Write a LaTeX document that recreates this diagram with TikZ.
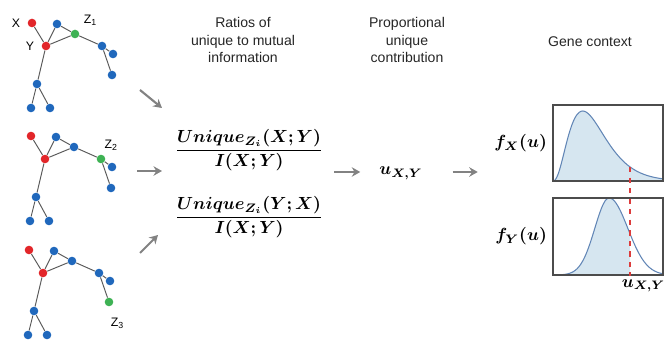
\documentclass[tikz,border=0pt]{standalone}
\usepackage{amsmath,amssymb}
\usepackage{bm}
\usepackage{fontspec}
\setsansfont{Liberation Sans}
\usetikzlibrary{arrows.meta, positioning, calc}
\definecolor{nodered}{RGB}{226,38,42}
\definecolor{nodeblue}{RGB}{32,104,188}
\definecolor{nodegreen}{RGB}{62,178,84}
\definecolor{linkgray}{RGB}{90,90,90}
\definecolor{flowgray}{RGB}{130,130,130}
\definecolor{curveblue}{RGB}{98,134,182}
\definecolor{fillblue}{RGB}{214,230,240}
\definecolor{cutred}{RGB}{220,60,60}

\begin{document}
\begin{tikzpicture}[x=0.02cm, y=-0.02cm,
  >={Stealth[length=1.7mm, width=1.9mm]},
  dot/.style={circle, fill=#1, inner sep=0pt, minimum size=4.9pt},
  lbl/.style={font=\sffamily\fontsize{7}{8}\selectfont, inner sep=1pt},
  head/.style={font=\sffamily\fontsize{8}{10.2}\selectfont, align=center, text=black!85},
  flow/.style={->, flowgray, line width=1.2pt},
  link/.style={linkgray, line width=0.55pt},
  plotbox/.style={draw=black!70, line width=0.6pt},
  eq/.style={font=\fontsize{9.6}{11.5}\selectfont, inner sep=1pt}
]
\useasboundingbox (0,0) rectangle (669,340);

% three copies of the network, the highlighted Z changes
\foreach \dx/\dy/\k/\cb/\cc/\ce in {0/0/1/nodegreen/nodeblue/nodeblue,
    -1/113/2/nodeblue/nodegreen/nodeblue, -3/227/3/nodeblue/nodeblue/nodegreen} {
  \begin{scope}[shift={(\dx,\dy)}]
    \node[dot=nodered] (X\k) at (32,23) {};
    \node[dot=nodered] (Y\k) at (46,46) {};
    \node[dot=nodeblue] (a\k) at (57,24) {};
    \node[dot=\cb] (b\k) at (75,34) {};
    \node[dot=\cc] (c\k) at (102,46) {};
    \node[dot=nodeblue] (d\k) at (113,54) {};
    \node[dot=\ce] (e\k) at (112,75) {};
    \node[dot=nodeblue] (f\k) at (37,84) {};
    \node[dot=nodeblue] (g\k) at (31,108) {};
    \node[dot=nodeblue] (h\k) at (50,108) {};
    \draw[link] (X\k) -- (Y\k) (Y\k) -- (a\k) (Y\k) -- (b\k) (a\k) -- (b\k)
      (b\k) -- (c\k) (c\k) -- (d\k) (c\k) -- (e\k)
      (Y\k) -- (f\k) (f\k) -- (g\k) (f\k) -- (h\k);
  \end{scope}
}
\node[lbl, left=3pt of X1] {X};
\node[lbl, left=3pt of Y1] {Y};
\node[lbl, above right=2pt and 2pt of b1] {Z\textsubscript{1}};
\node[lbl, above right=2pt and -1pt of c2] {Z\textsubscript{2}};
\node[lbl, below right=6pt and -2pt of e3] {Z\textsubscript{3}};

% column titles
\node[head] (ratiohead) at (243,40) {Ratios of\\unique to mutual\\information};
\node[head] (prophead) at (407,40) {Proportional\\unique\\contribution};
\node[head] (genehead) at (590,42) {Gene context};

% ratios and contribution
\node[eq] (ratioXY) at (249,150) {$\dfrac{\bm{Unique_{Z_i}(X;Y)}}{\bm{I(X;Y)}}$};
\node[eq] (ratioYX) at (249,217) {$\dfrac{\bm{Unique_{Z_i}(Y;X)}}{\bm{I(X;Y)}}$};
\node[eq] (uXY) at (401,173) {$\bm{u_{X,Y}}$};

\coordinate (g1out) at (140,90);  \coordinate (r1in) at (162,108);
\coordinate (g2out) at (137,171); \coordinate (r2in) at (162,171);
\coordinate (g3out) at (140,253); \coordinate (r3in) at (158,235);
\draw[flow] (g1out) -- (r1in);
\draw[flow] (g2out) -- (r2in);
\draw[flow] (g3out) -- (r3in);
\draw[flow] ($(uXY.west)+(-43,-1)$) -- ($(uXY.west)+(-17,-1)$);
\draw[flow] ($(uXY.east)+(28,-1)$) -- ($(uXY.east)+(53,-1)$);

% gene context densities
\fill[fillblue] (553,181) -- plot[domain=0.001:1, samples=60, smooth]
  ({553+110*\x}, {181-70*pow(\x/0.27,2.5)*exp(-9.26*(\x-0.27))}) -- (663,181) -- cycle;
\draw[curveblue, line width=0.6pt] plot[domain=0.001:1, samples=60, smooth]
  ({553+110*\x}, {181-70*pow(\x/0.27,2.5)*exp(-9.26*(\x-0.27))});
\fill[fillblue] (553,275) -- plot[domain=0:0.7, samples=40, smooth]
  ({553+110*\x}, {275-77*exp(-(\x-0.51)^2/(2*(\x<0.51 ? 0.13 : 0.17)^2))}) -- (630,275) -- cycle;
\draw[curveblue, line width=0.6pt] plot[domain=0:1, samples=60, smooth]
  ({553+110*\x}, {275-77*exp(-(\x-0.51)^2/(2*(\x<0.51 ? 0.13 : 0.17)^2))});
\node[plotbox, minimum width=110*0.02cm, minimum height=76*0.02cm, inner sep=0pt] (boxX) at (608,143) {};
\node[plotbox, minimum width=110*0.02cm, minimum height=77*0.02cm, inner sep=0pt] (boxY) at (608,236.5) {};
\coordinate (cutX) at (630,167);
\draw[cutred, dashed, line width=0.6pt] (cutX) -- (cutX |- boxY.south);
\node[eq, left=2pt of boxX] (fX) {$\bm{f_X(u)}$};
\node[eq, left=2pt of boxY] (fY) {$\bm{f_Y(u)}$};
\node[eq, below=1pt of boxY.south east, xshift=-20*0.02cm] (ucut) {$\bm{u_{X,Y}}$};
\end{tikzpicture}
\end{document}
